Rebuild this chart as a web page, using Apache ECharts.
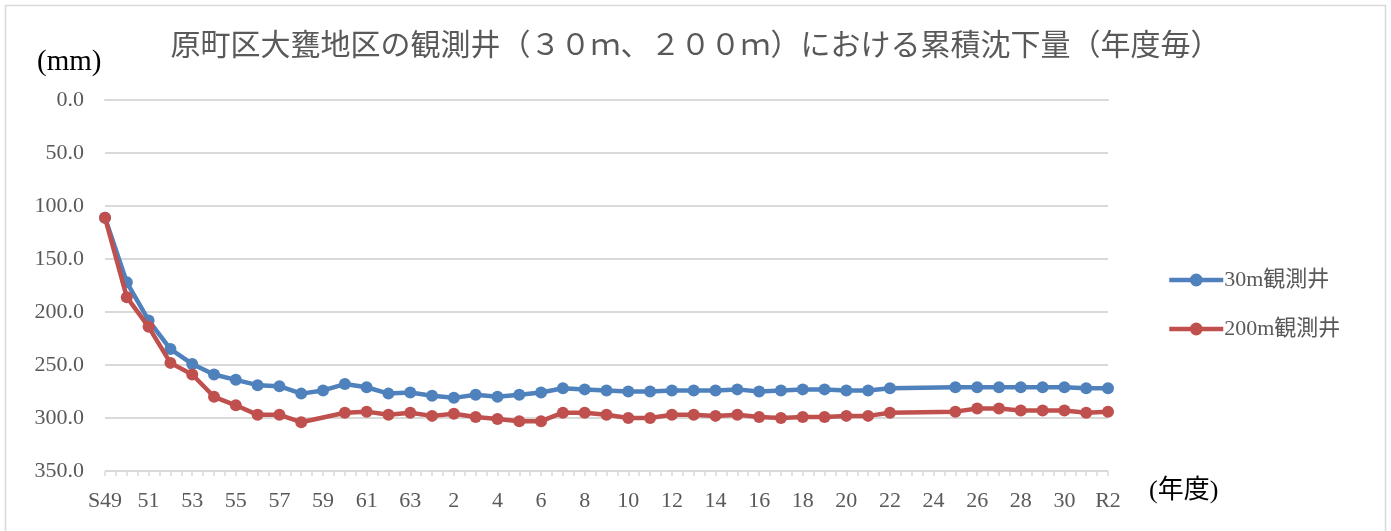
<!DOCTYPE html>
<html>
<head>
<meta charset="utf-8">
<script src="https://cdn.jsdelivr.net/npm/echarts@6/dist/echarts.min.js"></script>
<style>
  html, body { margin: 0; padding: 0; background: #fff; }
  #chart { width: 1391px; height: 531px; }
</style>
</head>
<body>
<div id="chart"></div>
<script>
// Fiscal years: Showa 49–63, Heisei 1–31, Reiwa 2
const years = ['S49','50','51','52','53','54','55','56','57','58','59','60','61','62','63',
  '1','2','3','4','5','6','7','8','9','10','11','12','13','14','15','16','17','18','19','20',
  '21','22','23','24','25','26','27','28','29','30','31','R2'];

// Cumulative subsidence (mm), 30 m observation well
const well30 = [111, 172, 208, 235, 249, 259, 264, 269, 270, 277, 274, 268, 271, 277, 276,
  279, 281, 278, 280, 278, 276, 272, 273, 274, 275, 275, 274, 274, 274, 273, 275, 274, 273, 273, 274,
  274, 272, null, null, 271, 271, 271, 271, 271, 271, 272, 272];

// Cumulative subsidence (mm), 200 m observation well
const well200 = [111, 186, 214, 248, 259, 280, 288, 297, 297, 304, null, 295, 294, 297, 295,
  298, 296, 299, 301, 303, 303, 295, 295, 297, 300, 300, 297, 297, 298, 297, 299, 300, 299, 299, 298,
  298, 295, null, null, 294, 291, 291, 293, 293, 293, 295, 294];

const yTicks = { min: 0, max: 350, step: 50 };

const serif = "'Liberation Serif', 'Noto Sans CJK JP', serif";
const grey = '#595959';
const gridGrey = '#d9d9d9';

const chart = echarts.init(document.getElementById('chart'));
chart.setOption({
  animation: false,
  backgroundColor: '#fff',
  title: {
    text: '原町区大甕地区の観測井（３０ｍ、２００ｍ）における累積沈下量（年度毎）',
    left: 'center',
    top: 27,
    textStyle: { fontFamily: serif, fontSize: 30, fontWeight: 'normal', color: grey }
  },
  graphic: [
    { type: 'rect', shape: { x: 5.5, y: 5.5, width: 1380, height: 540 },
      style: { fill: 'none', stroke: gridGrey, lineWidth: 1.5 }, silent: true },
    { type: 'text', left: 37, top: 48,
      style: { text: '(mm)', font: "29px " + serif, fill: '#000' } },
    { type: 'text', left: 1149, top: 478,
      style: { text: '(年度)', font: "26px " + serif, fill: '#000' } }
  ],
  legend: {
    orient: 'vertical',
    left: 1162,
    top: 264,
    itemWidth: 54,
    itemHeight: 16,
    itemGap: 27,
    lineStyle: { width: 4.5 },
    textStyle: { fontFamily: serif, fontSize: 22, color: grey, padding: [0, 0, 0, -4] },
    data: ['30m観測井', '200m観測井']
  },
  grid: { left: 105, right: 283, top: 100, bottom: 60, containLabel: false },
  xAxis: [
    {
      type: 'category',
      data: years,
      boundaryGap: false,
      axisLine: { lineStyle: { color: gridGrey, width: 2 } },
      axisTick: { show: false },
      axisLabel: {
        interval: 1,
        margin: 19,
        fontFamily: serif,
        fontSize: 22,
        color: grey
      },
      splitLine: { show: false }
    },
    {
      // tick marks at every half year along the base line
      type: 'value',
      position: 'bottom',
      min: 0,
      max: years.length - 1,
      interval: 0.5,
      axisLine: { show: false },
      axisTick: { show: true, length: 5, lineStyle: { color: gridGrey, width: 1.5 } },
      axisLabel: { show: false },
      splitLine: { show: false }
    }
  ],
  yAxis: {
    type: 'value',
    inverse: true,
    min: yTicks.min,
    max: yTicks.max,
    interval: yTicks.step,
    axisLine: { show: false },
    axisTick: { show: false },
    axisLabel: {
      margin: 21,
      fontFamily: serif,
      fontSize: 22,
      color: grey,
      formatter: v => v.toFixed(1)
    },
    splitLine: { lineStyle: { color: gridGrey, width: 2 } }
  },
  series: [
    {
      name: '30m観測井',
      type: 'line',
      data: well30,
      connectNulls: true,
      symbol: 'circle',
      symbolSize: 12,
      lineStyle: { color: '#4f81bd', width: 4.5 },
      itemStyle: { color: '#4f81bd' },
      z: 3
    },
    {
      name: '200m観測井',
      type: 'line',
      data: well200,
      connectNulls: true,
      symbol: 'circle',
      symbolSize: 12,
      lineStyle: { color: '#c0504d', width: 4.5 },
      itemStyle: { color: '#c0504d' },
      z: 4
    }
  ]
});
</script>
</body>
</html>
